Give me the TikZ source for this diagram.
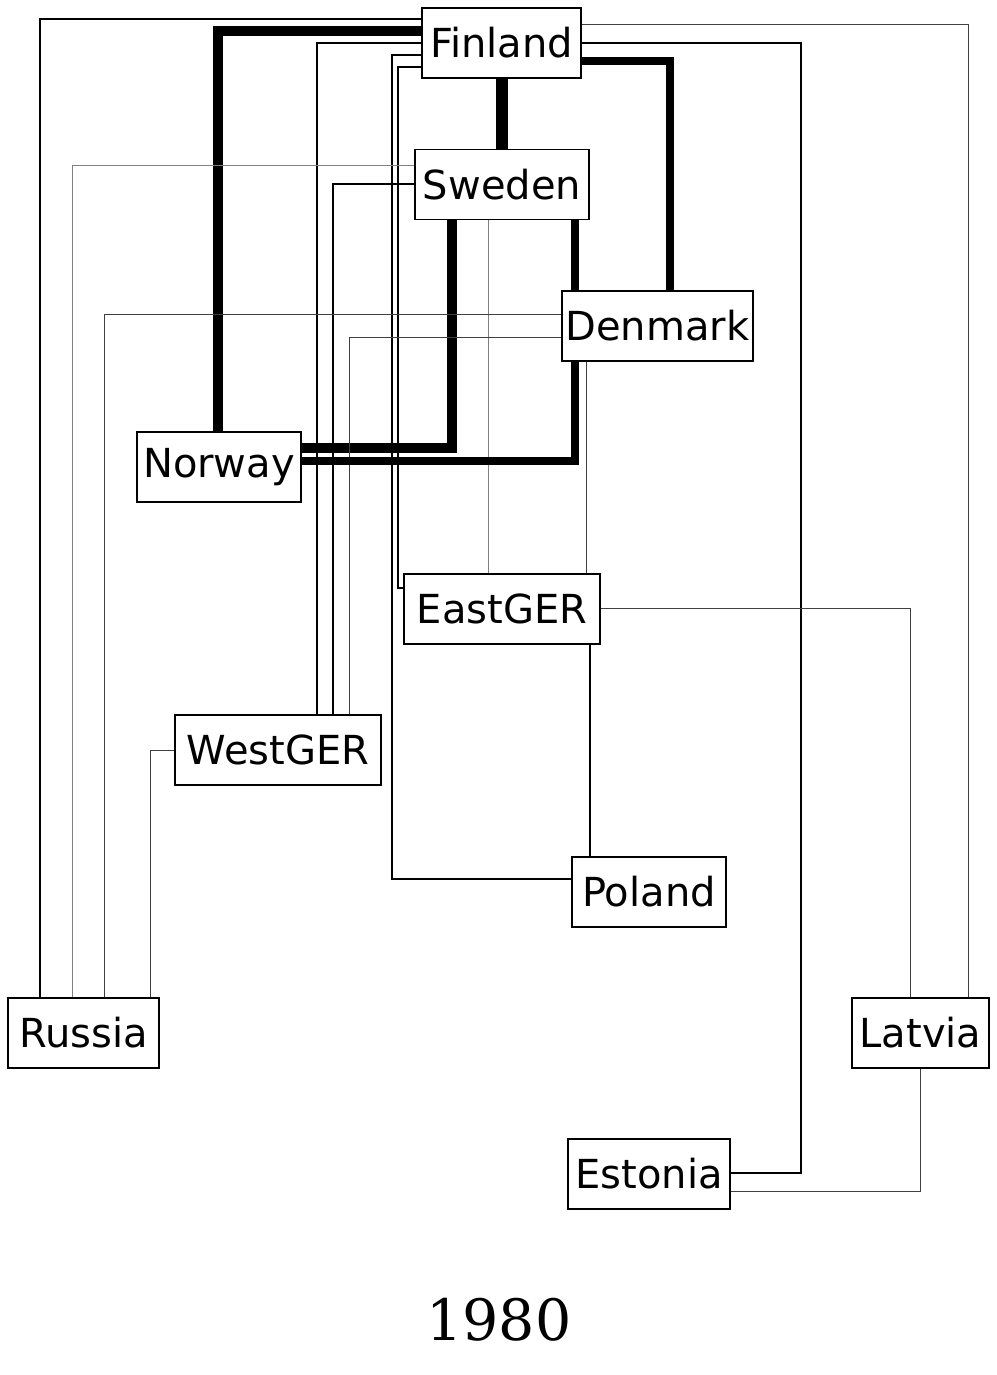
\documentclass[tikz,border=0pt]{standalone}
\usepackage{fontspec}
\setmainfont{DejaVu Sans}
\newfontfamily\yearfont{DejaVu Serif}
\usetikzlibrary{backgrounds}
\begin{document}
\begin{tikzpicture}[x=1pt,y=-1pt,
  country/.style={draw, line width=1.6pt, fill=white, font=\fontsize{40}{46}\selectfont,
    minimum height=70pt, inner xsep=3pt, inner ysep=0pt},
  e1/.style={line width=1pt, draw=black!75},
  g1/.style={line width=1pt, draw=black!50},
  e15/.style={line width=1.6pt, draw=black},
  e2/.style={line width=2pt, draw=black},
  e3/.style={line width=2.8pt, draw=black},
  e8/.style={line width=8pt, draw=black},
  e9/.style={line width=9.5pt, draw=black},
  e12/.style={line width=12pt, draw=black}]
\useasboundingbox (0,0) rectangle (996,1375);

\node[country, minimum width=159pt] (Finland) at (501.5,43) {Finland};
\node[country, minimum width=174pt] (Sweden) at (502,184.5) {Sweden};
\node[country, minimum width=191pt] (Denmark) at (657.5,326) {Denmark};
\node[country, minimum width=164pt] (Norway) at (219,467) {Norway};
\node[country, minimum width=196pt] (EastGER) at (502,609) {EastGER};
\node[country, minimum width=206pt] (WestGER) at (278,750) {WestGER};
\node[country, minimum width=154pt] (Poland) at (649,892) {Poland};
\node[country, minimum width=151pt] (Russia) at (83.5,1033) {Russia};
\node[country, minimum width=137pt] (Latvia) at (920.5,1033) {Latvia};
\node[country, minimum width=162pt] (Estonia) at (649,1174) {Estonia};
\node[font=\yearfont\fontsize{57}{64}\selectfont] (year) at (499,1320) {1980};

\begin{scope}[on background layer]
\fill[white] (0,0) rectangle (996,1375);
\draw[e2] (Finland.west |- 0,19) -| (Russia.north -| 40,0);
\draw[e9] (Finland.west |- 0,31) -| (Norway.north -| 218,0);
\draw[e2] (Finland.west |- 0,43) -| (WestGER.north -| 317,0);
\draw[e2] (Finland.west |- 0,55) -| (392,879) -- (Poland.west |- 0,879);
\draw[e3] (Finland.west |- 0,67) -| (398,588) -- (EastGER.west |- 0,588);
\draw[e12] (Finland.south -| 502,0) -- (Sweden.north -| 502,0);
\draw[e8] (Finland.east |- 0,61) -| (Denmark.north -| 670,0);
\draw[e1] (Finland.east |- 0,25) -| (Latvia.north -| 968,0);
\draw[e2] (Finland.east |- 0,43) -| (801,1173) -- (Estonia.east |- 0,1173);
\draw[g1] (Sweden.west |- 0,166) -| (Russia.north -| 72,0);
\draw[e15] (Sweden.west |- 0,184) -| (WestGER.north -| 333,0);
\draw[e9] (Sweden.south -| 452,0) |- (Norway.east |- 0,448);
\draw[e8] (Sweden.south -| 575,0) -- (Denmark.north -| 575,0);
\draw[g1] (Sweden.south -| 488,0) -- (EastGER.north -| 488,0);
\draw[e1] (Denmark.west |- 0,314) -| (Russia.north -| 104,0);
\draw[e1] (Denmark.west |- 0,337) -| (WestGER.north -| 349,0);
\draw[e8] (Denmark.south -| 575,0) |- (Norway.east |- 0,461);
\draw[e1] (Denmark.south -| 586,0) -- (EastGER.north -| 586,0);
\draw[e1] (EastGER.east |- 0,608) -| (Latvia.north -| 910,0);
\draw[e15] (EastGER.south -| 590,0) -- (Poland.north -| 590,0);
\draw[e1] (WestGER.west |- 0,750) -| (Russia.north -| 150,0);
\draw[e1] (Latvia.south -| 920,0) |- (Estonia.east |- 0,1191);
\end{scope}
\end{tikzpicture}
\end{document}
